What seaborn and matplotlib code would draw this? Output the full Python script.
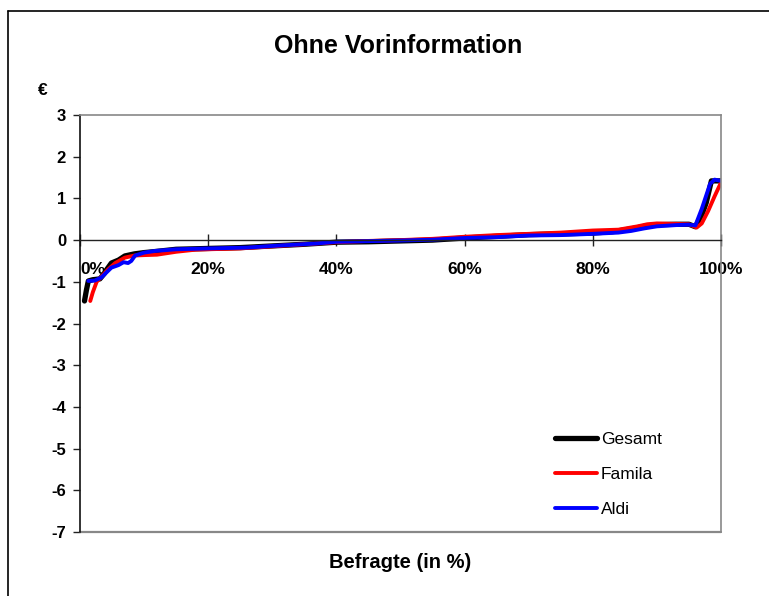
import matplotlib
matplotlib.use("Agg")
import matplotlib.pyplot as plt
import seaborn as sns
import pandas as pd
from matplotlib.lines import Line2D

# ---- data ----
gesamt_pct = [0.7, 1.0, 1.3, 2.0, 3.1, 3.8, 4.2, 4.9, 6.0, 7.0, 8.5, 10, 12, 15, 20, 25, 30, 35, 40, 45,
              50, 55, 60, 65, 70, 75, 80, 83, 86, 88, 90, 93, 95, 96, 97, 97.7, 98.5, 100]
gesamt_val = [-1.46, -1.2, -0.98, -0.95, -0.93, -0.8, -0.7, -0.55, -0.48, -0.38, -0.33, -0.3, -0.27, -0.22,
              -0.2, -0.18, -0.14, -0.1, -0.05, -0.04, -0.02, 0.0, 0.05, 0.09, 0.13, 0.15, 0.17, 0.2, 0.27,
              0.33, 0.37, 0.38, 0.38, 0.32, 0.6, 0.9, 1.42, 1.42]

famila_pct = [1.6, 2.0, 2.6, 3.5, 4.4, 5.5, 7.0, 8.5, 10, 12, 15, 18, 20, 25, 30, 35, 40, 45, 50, 55,
              60, 65, 70, 75, 80, 84, 87, 88.5, 90, 95, 96.2, 97, 98, 99, 100]
famila_val = [-1.46, -1.25, -1.0, -0.85, -0.7, -0.55, -0.42, -0.37, -0.36, -0.35, -0.28, -0.23, -0.22, -0.2,
              -0.15, -0.1, -0.05, -0.02, 0.0, 0.03, 0.08, 0.12, 0.15, 0.18, 0.23, 0.25, 0.33, 0.38, 0.4,
              0.38, 0.3, 0.4, 0.7, 1.05, 1.38]

aldi_pct = [1.3, 2.3, 3.3, 4.9, 6.0, 6.8, 7.5, 8.0, 8.6, 10, 11.7, 15, 20, 26, 30, 37, 40, 50, 55, 60,
            65, 70, 75, 80, 84, 86, 88, 90, 93, 95, 96, 97, 98.3, 99, 100]
aldi_val = [-0.98, -0.97, -0.9, -0.66, -0.6, -0.53, -0.55, -0.5, -0.37, -0.3, -0.26, -0.22, -0.2, -0.18,
            -0.14, -0.08, -0.04, -0.01, 0.01, 0.05, 0.07, 0.11, 0.12, 0.15, 0.18, 0.22, 0.28, 0.33, 0.36,
            0.37, 0.35, 0.75, 1.35, 1.45, 1.42]

series_names = ["Gesamt", "Famila", "Aldi"]
series_colors = ["#000000", "#ff0000", "#0000ff"]
x_ticks = [0, 20, 40, 60, 80, 100]
x_ticklabels = ["0%", "20%", "40%", "60%", "80%", "100%"]
y_ticks = [3, 2, 1, 0, -1, -2, -3, -4, -5, -6, -7]

# ---- style ----
sns.set_style("white")
plt.rcParams["font.family"] = ["Liberation Sans", "DejaVu Sans"]
plt.rcParams["text.color"] = "black"
plt.rcParams["xtick.color"] = "black"
plt.rcParams["ytick.color"] = "black"

fig = plt.figure(figsize=(7.69, 5.96), dpi=100)
ax = fig.add_axes([80 / 769, 1 - 532 / 596, 641 / 769, 417 / 596])

frames = [
    pd.DataFrame({"pct": gesamt_pct, "value": gesamt_val}),
    pd.DataFrame({"pct": famila_pct, "value": famila_val}),
    pd.DataFrame({"pct": aldi_pct, "value": aldi_val}),
]
widths = [3.8, 2.8, 2.8]
for df, name, col, lw in zip(frames, series_names, series_colors, widths):
    sns.lineplot(data=df, x="pct", y="value", ax=ax, color=col, linewidth=lw,
                 sort=False, estimator=None, label=name, solid_capstyle="round")

ax.set_xlim(0, 100)
ax.set_ylim(-7, 3)

# spines
ax.spines["bottom"].set_position(("data", 0))
ax.spines["bottom"].set_color("#222222")
ax.spines["bottom"].set_linewidth(1.0)
ax.spines["left"].set_color("#111111")
ax.spines["left"].set_linewidth(1.2)
for s in ["top", "right"]:
    ax.spines[s].set_visible(True)
    ax.spines[s].set_color("#888888")
    ax.spines[s].set_linewidth(1.2)
ax.axhline(-7, color="#888888", lw=1.6, clip_on=False)

ax.set_xticks(x_ticks)
ax.set_xticklabels(x_ticklabels, fontweight="bold", fontsize=12.5)
ax.get_xticklabels()[0].set_horizontalalignment("left")
ax.set_yticks(y_ticks)
ax.set_yticklabels([str(v) for v in y_ticks], fontweight="bold", fontsize=12)
ax.tick_params(axis="x", direction="inout", length=9, width=1, color="#222222", pad=11, bottom=True)
ax.tick_params(axis="y", direction="out", length=5, width=1, color="#222222", pad=5, left=True)

ax.set_xlabel("")
ax.set_ylabel("")

fig.text(398 / 769, 1 - 46 / 596, "Ohne Vorinformation", ha="center", va="center",
         fontsize=18, fontweight="bold")
fig.text(43 / 769, 1 - 90 / 596, "€", ha="center", va="center", fontsize=12.5, fontweight="bold")
fig.text(400 / 769, 1 - 563 / 596, "Befragte (in %)", ha="center", va="center",
         fontsize=14.5, fontweight="bold")

leg = ax.legend(loc="upper left", bbox_to_anchor=(548 / 769, 1 - 425 / 596),
                bbox_transform=fig.transFigure, frameon=False, fontsize=12.5,
                handlelength=2.4, handletextpad=0.25, labelspacing=1.15, borderaxespad=0)

# outer chart border
fig.add_artist(Line2D([8 / 769, 1.0], [1 - 11 / 596, 1 - 11 / 596], color="black", lw=1.2,
                      transform=fig.transFigure))
fig.add_artist(Line2D([8 / 769, 8 / 769], [0.0, 1 - 11 / 596], color="black", lw=1.2,
                      transform=fig.transFigure))

fig.savefig("out.png", dpi=100)
